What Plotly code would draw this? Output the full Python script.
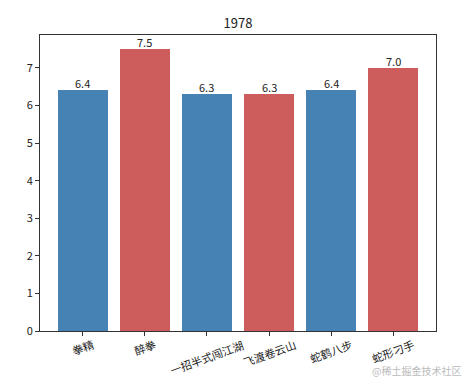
import plotly.graph_objects as go

categories = ["拳精", "醉拳", "一招半式闯江湖", "飞渡卷云山", "蛇鹤八步", "蛇形刁手"]
scores = [6.4, 7.5, 6.3, 6.3, 6.4, 7.0]
colors = ["#4682B4", "#CD5C5C", "#4682B4", "#CD5C5C", "#4682B4", "#CD5C5C"]
title = "1978"
yticks = [0, 1, 2, 3, 4, 5, 6, 7]

FONT = "Noto Sans CJK SC, DejaVu Sans, sans-serif"
x = list(range(len(categories)))

fig = go.Figure()
fig.add_trace(go.Bar(
    x=x, y=scores, width=0.8, marker=dict(color=colors, line=dict(width=0)),
))

for i, v in enumerate(scores):
    fig.add_annotation(x=i, y=v, xref="x", yref="y", text=f"{v:.1f}", showarrow=False,
                       yanchor="bottom", yshift=-3,
                       font=dict(size=11, color="#222", family=FONT))

for i, c in enumerate(categories):
    w = 11 * len(c)
    center = 338 + (w * 0.342 + 12 * 0.94) / 2
    fig.add_annotation(x=i, y=0, xref="x", yref="y", text=c, showarrow=False,
                       textangle=-20, yanchor="middle", xanchor="center",
                       yshift=-(center - 331),
                       font=dict(size=11, color="#222", family=FONT))

fig.add_annotation(x=1.068, y=-0.132, xref="paper", yref="paper", xanchor="right",
                   yanchor="middle", text="@稀土掘金技术社区", showarrow=False,
                   font=dict(size=10, color="#bbbbbb", family=FONT))

fig.update_layout(
    width=474, height=387,
    margin=dict(l=40, r=38, t=35, b=56),
    paper_bgcolor="white", plot_bgcolor="white",
    title=dict(text=title, x=0.5, xref="paper", y=1 - 23/387, yanchor="middle",
               font=dict(size=13, color="#222", family=FONT)),
    showlegend=False,
    bargap=0,
)
fig.update_xaxes(range=[-0.69, 5.69], tickvals=x, ticktext=[""] * len(x),
                 showgrid=False, zeroline=False, showline=True, linecolor="#333",
                 linewidth=1, mirror=True, ticks="outside", ticklen=4, tickcolor="#333")
fig.update_yaxes(range=[0, 7.875], tickvals=yticks, showgrid=False, zeroline=False,
                 showline=True, linecolor="#333", linewidth=1, mirror=True,
                 ticks="outside", ticklen=4, tickcolor="#333",
                 tickfont=dict(size=11, color="#222", family=FONT))

fig.write_html("out.html")
